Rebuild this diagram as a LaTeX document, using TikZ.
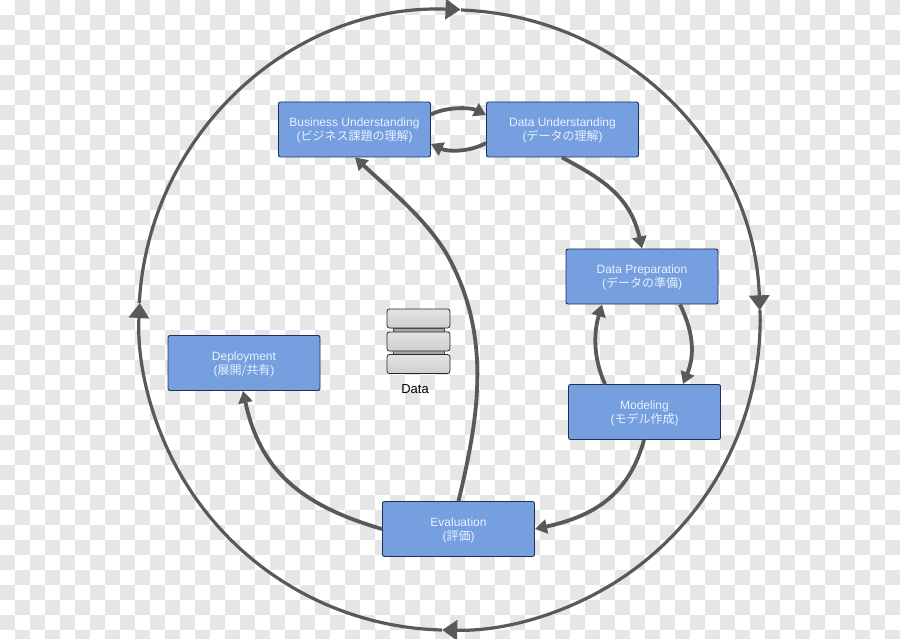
\documentclass[tikz,border=0pt]{standalone}
\usepackage{fontspec}
\setmainfont{Liberation Sans}
\newfontfamily\cjk{Noto Sans CJK JP}
\usetikzlibrary{arrows.meta,shadings}
\definecolor{chk}{HTML}{E6E6E6}
\definecolor{boxfill}{HTML}{759FDF}
\definecolor{boxline}{HTML}{1F2F55}
\definecolor{boxtext}{HTML}{E8F1FF}
\definecolor{conn}{HTML}{595959}
\newcommand{\tpad}{\rule{0pt}{10.7pt}}
\tikzset{
  phase/.style={draw=boxline,line width=0.9pt,fill=boxfill,rounded corners=2pt,minimum width=152pt,minimum height=55pt,inner sep=0pt,align=center,text=boxtext,font=\fontsize{12}{14}\selectfont},
  flow/.style={draw=conn,line width=3.8pt,-{Triangle[length=12pt,width=14pt]}},
  ring/.style={draw=conn,line width=3.2pt,-{Triangle[length=15pt,width=20pt]}},
  disk/.style={draw=black!85,line width=0.8pt,rounded corners=2.5pt,top color=gray!22,bottom color=gray!38,minimum width=63pt,minimum height=19pt,inner sep=0pt},
  strip/.style={draw=black!70,line width=0.4pt,fill=gray!70,minimum width=51pt,minimum height=4pt,inner sep=0pt}
}
\begin{document}
\begin{tikzpicture}[x=1pt,y=-1pt]
\useasboundingbox (0,0) rectangle (900,639);
\fill[white] (0,0) rectangle (900,639);
\foreach \j in {0,...,42}{
  \foreach \i in {0,...,60}{
    \pgfmathparse{int(mod(\i+\j,2))}
    \ifnum\pgfmathresult=1
      \fill[chk] (15*\i,15*\j) rectangle (15*\i+15,15*\j+15);
    \fi
  }
}
% ring
\coordinate (tT) at (461,10);
\coordinate (tR) at (760,310);
\coordinate (tB) at (442,630);
\coordinate (tL) at (139.3,303);
\draw[ring] (tL) arc[start angle=183.1,end angle=272.1,radius=310.3];
\draw[ring] (tT) arc[start angle=272.1,end angle=358.2,radius=310.3];
\draw[ring] (tR) arc[start angle=358.2,end angle=451.4,radius=310.3];
\draw[ring] (tB) arc[start angle=451.4,end angle=543.1,radius=310.3];
% boxes
\node[phase] (bu) at (354.5,129.5) {\tpad Business Understanding\\({\cjk ビジネス課題の理解})};
\node[phase] (du) at (562.5,129.5) {\tpad Data Understanding\\({\cjk データの理解})};
\node[phase] (dp) at (642,276.5) {\tpad Data Preparation\\({\cjk データの準備})};
\node[phase] (mo) at (644.5,412) {\tpad Modeling\\({\cjk モデル作成})};
\node[phase] (de) at (244,363) {\tpad Deployment\\({\cjk 展開/共有})};
\node[phase] (ev) at (458.5,529) {\tpad Evaluation\\({\cjk 評価})};
% data store
\node[strip] (s1) at (418.5,330) {};
\node[strip] (s2) at (418.5,352.5) {};
\node[disk] (d1) at (418.5,318.5) {};
\node[disk] (d2) at (418.5,341.5) {};
\node[disk] (d3) at (418.5,364) {};
\node[font=\fontsize{13}{15}\selectfont,text=black] (dl) at (415,389) {Data};
% connectors
\draw[flow] ([yshift=15pt]bu.east) .. controls (445,107) and (470,107) .. ([yshift=14.5pt]du.west);
\draw[flow] ([yshift=-13.5pt]du.west) .. controls (470,152) and (448,152) .. ([yshift=-14.5pt]bu.east);
\draw[flow] ([xshift=-0.5pt]du.south) .. controls (600,178) and (630,195) .. (dp.north);
\draw[flow] ([xshift=38pt]dp.south) .. controls (690,325) and (697,350) .. ([xshift=38.5pt]mo.north);
\draw[flow] ([xshift=-39.5pt]mo.north) .. controls (594,360) and (593,335) .. ([xshift=-40pt]dp.south);
\draw[flow] ([xshift=-0.5pt]mo.south) .. controls (630,490) and (600,515) .. (ev.east);
\draw[flow] (ev.north) .. controls (478,420) and (492,340) .. (450,260) .. controls (430,222) and (390,190) .. ([xshift=0.5pt]bu.south);
\draw[flow] (ev.west) .. controls (300,505) and (260,470) .. ([xshift=-1pt]de.south);
\end{tikzpicture}
\end{document}
